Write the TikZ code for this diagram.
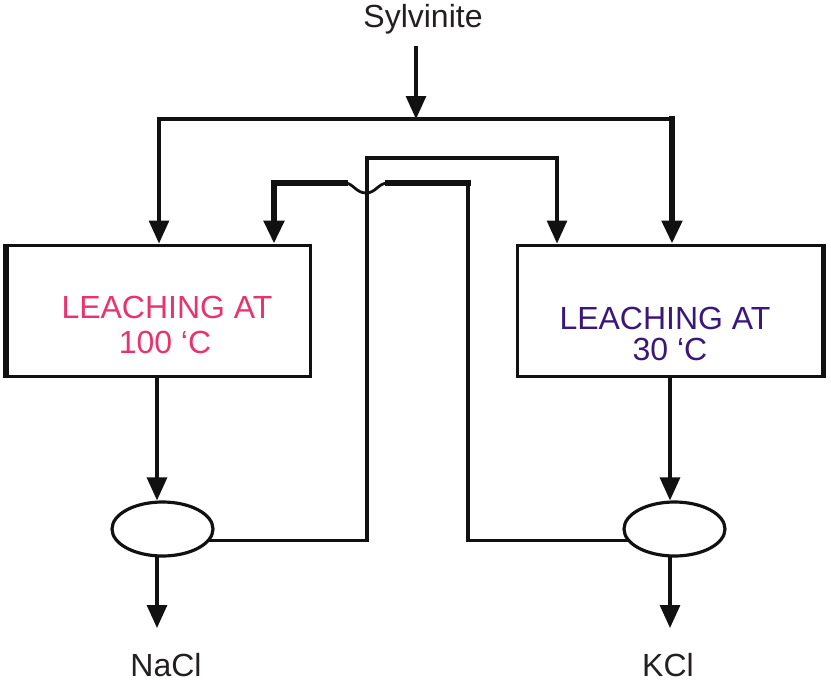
\documentclass[tikz,border=0pt]{standalone}
\usepackage{fontspec}
\setmainfont{Liberation Sans}
\usetikzlibrary{arrows.meta,shapes.geometric}
\definecolor{hotpink}{RGB}{232,51,110}
\definecolor{coolviolet}{RGB}{58,24,122}
\definecolor{ink}{RGB}{17,17,17}
\definecolor{labelgray}{RGB}{35,31,32}
\begin{document}
\begin{tikzpicture}[x=1pt,y=-1pt,
  pipe/.style={draw=ink,line width=3.1pt,line cap=rect},
  flow/.style={pipe,-{Triangle[length=23pt,width=20pt]}},
  vessel/.style={draw=ink,line width=3pt,rectangle,minimum height=131pt,inner sep=0pt},
  separator/.style={draw=ink,line width=3.2pt,ellipse,minimum width=101pt,minimum height=54pt,inner sep=0pt},
  tag/.style={font=\fontsize{32}{36}\selectfont,text=labelgray,anchor=base,inner sep=0pt,text depth=0pt},
  ]
\useasboundingbox (0,0) rectangle (831,683);

% leaching vessels
\node[vessel,minimum width=303pt] (hotleach) at (158.5,310.5) {};
\node[vessel,minimum width=305pt] (coldleach) at (669.5,310.5) {};
\draw[ink,line width=4.5pt] (hotleach.north west) -- (hotleach.south west);
\draw[ink,line width=4.5pt] (coldleach.north east) -- (coldleach.south east);

\node[tag,text=hotpink] (hotline1) at (167,318) {LEACHING AT};
\node[tag,text=hotpink] (hotline2) at (165,353) {100 ‘C};
\node[tag,text=coolviolet] (coldline1) at (665,329) {LEACHING AT};
\node[tag,text=coolviolet,text height=21pt] (coldline2) at (670,360) {30 ‘C};

% separators
\node[separator] (hotsep) at (162.5,529) {};
\node[separator] (coldsep) at (674.5,529) {};

% labels
\node[tag] (feedname) at (423,27) {Sylvinite};
\node[tag] (naclname) at (166,676) {NaCl};
\node[tag] (kclname) at (668,676) {KCl};

% routing points
\coordinate (feedtop) at (416,48);
\coordinate (drop) at (416,119);
\coordinate (feedL) at (159,119);
\coordinate (feedR) at (672,119);
\coordinate (rbend) at (468,183);
\coordinate (hopE) at (388,183);
\coordinate (hopW) at (345,183);
\coordinate (rdrop) at (274,183);
\coordinate (lup) at (367,158);
\coordinate (lknee) at (557,158);
\coordinate (naclout) at (157,628);
\coordinate (kclout) at (670,628);

% sylvinite feed split to both vessels
\draw[flow] (feedtop) -- (drop);
\draw[pipe] (feedL) -- (feedR);
\draw[flow] (feedL) -- (feedL |- hotleach.north);
\draw[flow,line width=5.2pt] (feedR) -- (feedR |- coldleach.north);

% mother liquor from the KCl separator back to the hot leach
\draw[pipe] (coldsep.194) -| (rbend);
\draw[pipe,line width=5.5pt] (rbend) -- (hopE);
\draw[ink,line width=2.8pt] (hopE) .. controls (378,183) and (376,193) .. (366,193)
      .. controls (356,193) and (353,183) .. (hopW);
\draw[flow,line width=5.5pt] (hopW) -- (rdrop) -- (rdrop |- hotleach.north);

% liquor from the NaCl separator to the cold leach
\draw[flow] (hotsep.346) -| (lup) -| (coldleach.north -| lknee);

% vessels to separators and products
\draw[flow] (hotleach.south -| naclout) -- (hotsep.north -| naclout);
\draw[flow] (hotsep.south -| naclout) -- (naclout);
\draw[flow] (coldleach.south -| kclout) -- (coldsep.north -| kclout);
\draw[flow] (coldsep.south -| kclout) -- (kclout);
\end{tikzpicture}
\end{document}
